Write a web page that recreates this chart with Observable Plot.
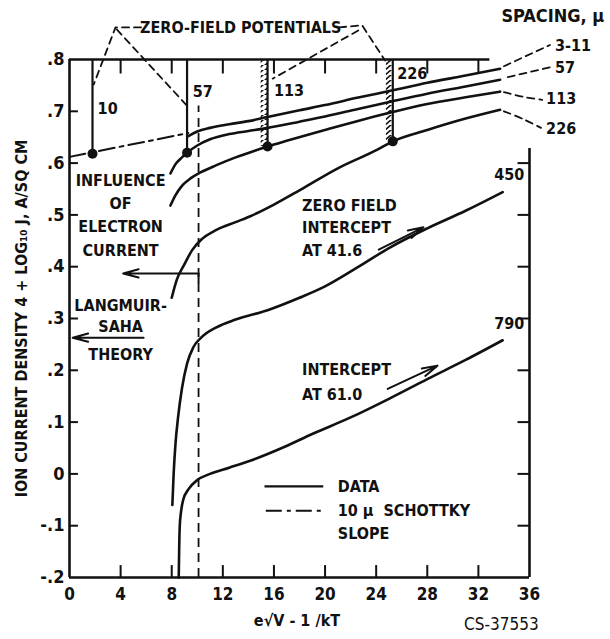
<!DOCTYPE html>
<html><head><meta charset="utf-8">
<script src="https://cdn.jsdelivr.net/npm/d3@7"></script>
<script src="https://cdn.jsdelivr.net/npm/@observablehq/plot@0.6"></script>
<style>
body{margin:0;background:#fff;}
#chart svg{font-family:"Liberation Sans Narrow","DejaVu Sans Condensed","Arial Narrow",sans-serif;font-weight:bold;}
</style></head><body><div id="chart"></div>
<script>
// ---- data ----
const xTicks = [0,4,8,12,16,20,24,28,32,36];
const yTicks = [-0.2,-0.1,0,0.1,0.2,0.3,0.4,0.5,0.6,0.7,0.8];
const innerXTicks = [4,8,12,16,20,24,28,32];
const rightYTicks = [-0.1,0,0.1,0.2,0.3,0.4,0.5,0.6];

const c311 = [[9.3,0.652],[10,0.661],[11,0.668],[12.5,0.675],[14,0.681],[15.5,0.689],[18,0.702],[20,0.712],[22.5,0.726],[25.2,0.740],[28,0.755],[31,0.769],[33.7,0.782]];
const c57 = [[7.9,0.580],[8.3,0.598],[8.8,0.611],[9.2,0.620],[10,0.634],[11,0.646],[12.5,0.656],[14,0.662],[15.5,0.668],[18,0.680],[20,0.690],[22.5,0.704],[25.2,0.719],[28,0.734],[31,0.748],[33.7,0.761]];
const c113 = [[7.9,0.518],[8.3,0.538],[8.8,0.556],[9.5,0.571],[10.25,0.582],[11.5,0.596],[13,0.611],[14.5,0.624],[15.5,0.632],[17,0.643],[20,0.664],[22.5,0.681],[25.2,0.698],[28,0.714],[31,0.727],[33.7,0.738]];
const c226 = [[8.0,0.340],[8.4,0.375],[9.0,0.405],[9.6,0.432],[10.3,0.452],[11.5,0.471],[13,0.486],[14.2,0.498],[16,0.520],[18.1,0.549],[21,0.590],[24.1,0.626],[25.3,0.642],[28,0.664],[31,0.686],[33.7,0.703]];
const c450 = [[8.05,-0.06],[8.15,0.0],[8.3,0.06],[8.5,0.11],[8.8,0.165],[9.2,0.213],[9.7,0.245],[10.3,0.263],[11.5,0.283],[13,0.298],[15.5,0.316],[18,0.340],[20,0.362],[22.5,0.398],[25,0.436],[28,0.474],[31,0.508],[33.9,0.544]];
const c790 = [[8.55,-0.2],[8.58,-0.15],[8.63,-0.10],[8.72,-0.075],[8.9,-0.05],[9.3,-0.03],[10,-0.012],[11,0.0],[12.5,0.012],[14.2,0.026],[16.8,0.052],[19,0.077],[22,0.109],[25,0.145],[28,0.183],[31,0.220],[33.9,0.258]];
const schottky = [[0,0.612],[9.3,0.658]];

const zfLabels = ["10","57","113","226"];
const zfX = [1.8, 9.2, 15.5, 25.3];
const zfY = [0.618, 0.620, 0.632, 0.642];
const zfHatched = [false, false, true, true];

const spacingLabels = ["3-11","57","113","226"];
const endLabels = ["450","790"];
const dashedLimitX = 10.1;
const electronArrowY = 0.387;
const langmuirSahaY = 0.263;

const influenceText = ["INFLUENCE","OF","ELECTRON","CURRENT"];
const langmuirText = ["LANGMUIR-","SAHA","THEORY"];
const intercept1Text = ["ZERO FIELD","INTERCEPT","AT 41.6"];
const intercept2Text = ["INTERCEPT","AT 61.0"];
const legendText = ["DATA","10 μ  SCHOTTKY","SLOPE"];
const titleTop = "ZERO-FIELD POTENTIALS";
const spacingTitle = "SPACING, μ";
const xTitle = "e√V - 1 /kT";
const yTitle = "ION CURRENT DENSITY 4 + LOG\u2081\u2080 J, A/SQ CM";
const figureId = "CS-37553";

// ---- build ----
const P = d => d[0], Q = d => d[1];
const yFmt = d => d === 0 ? "0" : d.toFixed(1).replace("0.", ".");
const curveStyle = {x: P, y: Q, curve: "monotone-x", strokeWidth: 2.6, stroke: "#111"};
const zf = zfLabels.map((l, i) => ({l, i, x: zfX[i], y: zfY[i], h: zfHatched[i]}));
const T = {fontSize: 16, fontWeight: "bold"};
const dash = {strokeWidth: 1.8, strokeDasharray: "7,5"};
const arrowStyle = {strokeWidth: 2, headLength: 12, headAngle: 30};

const plot = Plot.plot({
  width: 610, height: 639,
  marginLeft: 69, marginRight: 81, marginTop: 59, marginBottom: 62,
  x: {domain: [0, 36]},
  y: {domain: [-0.2, 0.8]},
  style: {background: "#fff", color: "#111", fontSize: "17px", overflow: "visible"},
  marks: [
    // frame
    Plot.ruleX([0], {y1: -0.2, y2: 0.8, strokeWidth: 2.6}),
    Plot.ruleY([-0.2], {x1: 0, x2: 36, strokeWidth: 2.6}),
    Plot.ruleY([0.8], {x1: 0, x2: 32.9, strokeWidth: 2.6}),
    Plot.ruleX([36], {y1: -0.2, y2: 0.628, strokeWidth: 2.6}),
    // inward ticks
    Plot.ruleY(yTicks.filter(d => d > -0.2 && d < 0.8), {x1: 0, x2: 0.7, strokeWidth: 2}),
    Plot.ruleX(innerXTicks, {y1: -0.2, y2: -0.177, strokeWidth: 2}),
    Plot.ruleX(innerXTicks, {y1: 0.8, y2: 0.772, strokeWidth: 2}),
    Plot.ruleY(rightYTicks, {x1: 36, x2: 35.1, strokeWidth: 2}),
    Plot.axisX({ticks: xTicks, tickSize: 0, tickPadding: 10, tickFormat: d => String(d), label: null, fontSize: 17, fontWeight: "bold"}),
    Plot.axisY({ticks: yTicks, tickSize: 0, tickPadding: 5, tickFormat: yFmt, label: null, fontSize: 18, fontWeight: "bold"}),
    // zero-field potential lines
    Plot.rect(zf.filter(d => d.h), {x1: d => d.x - 0.5, x2: d => d.x, y1: d => d.y, y2: 0.8, fill: "url(#hatch)"}),
    Plot.ruleX(zf, {x: "x", y1: "y", y2: 0.8, strokeWidth: 2.2}),
    Plot.text(zf, {x: d => d.x + [0.4, 0.45, 0.5, 0.35][d.i], y: d => [0.705, 0.737, 0.740, 0.772][d.i], text: "l", textAnchor: "start", ...T}),
    // zero-field leaders and title
    Plot.text([titleTop], {x: 13.4, y: 0.862, text: d => d, fontSize: 16, fontWeight: "bold"}),
    Plot.line([[5.6,0.862],[3.6,0.862],[1.9,0.752]], {x: P, y: Q, ...dash}),
    Plot.line([[3.7,0.858],[9.15,0.712]], {x: P, y: Q, ...dash}),
    Plot.line([[21.1,0.862],[22.9,0.866],[24.7,0.798]], {x: P, y: Q, ...dash}),
    Plot.line([[22.6,0.856],[15.9,0.763]], {x: P, y: Q, ...dash}),
    // dashed limit line
    Plot.ruleX([dashedLimitX], {y1: -0.2, y2: 0.71, strokeWidth: 1.8, strokeDasharray: "9,6"}),
    // curves
    Plot.line(schottky, {x: P, y: Q, strokeWidth: 2, strokeDasharray: "16,5,4,5"}),
    Plot.line(c311, curveStyle),
    Plot.line(c57, curveStyle),
    Plot.line(c113, curveStyle),
    Plot.line(c226, curveStyle),
    Plot.line(c450, curveStyle),
    Plot.line(c790, curveStyle),
    Plot.dot(zf, {x: "x", y: "y", r: 5, fill: "#111"}),
    // right spacing labels and leaders
    Plot.text([spacingTitle], {x: 33.8, y: 0.883, text: d => d, textAnchor: "start", fontSize: 18, fontWeight: "bold"}),
    Plot.line([[34.0,0.787],[37.6,0.828]], {x: P, y: Q, ...dash}),
    Plot.line([[34.3,0.766],[37.8,0.786]], {x: P, y: Q, ...dash}),
    Plot.line([[34.0,0.737],[35.5,0.728],[37.0,0.722]], {x: P, y: Q, curve: "catmull-rom", ...dash}),
    Plot.line([[34.0,0.700],[35.6,0.684],[36.9,0.668]], {x: P, y: Q, curve: "catmull-rom", ...dash}),
    Plot.text(spacingLabels, {x: [38.0, 38.0, 37.3, 37.3], y: [0.826, 0.784, 0.724, 0.666], text: d => d, textAnchor: "start", ...T}),
    Plot.text(endLabels, {x: [35.6, 35.6], y: [0.578, 0.290], text: d => d, textAnchor: "end", ...T}),
    // annotations
    Plot.text(influenceText, {x: 4.0, y: (d, i) => 0.566 - i * 0.045, text: d => d, ...T}),
    Plot.text(langmuirText, {x: 4.0, y: [0.325, 0.283, 0.229], text: d => d, ...T}),
    Plot.text(intercept1Text, {x: 18.2, y: [0.518, 0.474, 0.431], text: d => d, textAnchor: "start", ...T}),
    Plot.text(intercept2Text, {x: 18.2, y: [0.200, 0.153], text: d => d, textAnchor: "start", ...T}),
    // arrows
    Plot.arrow([0], {x1: dashedLimitX, x2: 4.2, y1: electronArrowY, y2: electronArrowY, ...arrowStyle}),
    Plot.ruleX([dashedLimitX], {y1: electronArrowY, y2: electronArrowY - 0.02, strokeWidth: 2}),
    Plot.arrow([0], {x1: 5.8, x2: 0.25, y1: langmuirSahaY, y2: langmuirSahaY, ...arrowStyle}),
    Plot.arrow([0], {x1: 24.2, y1: 0.433, x2: 27.7, y2: 0.476, ...arrowStyle}),
    Plot.arrow([0], {x1: 24.9, y1: 0.164, x2: 28.8, y2: 0.209, ...arrowStyle}),
    // legend
    Plot.ruleY([-0.024], {x1: 15.3, x2: 19.9, strokeWidth: 2.2}),
    Plot.ruleY([-0.071], {x1: 15.4, x2: 19.9, strokeWidth: 2, strokeDasharray: "16,5,4,5"}),
    Plot.text(legendText, {x: 21.0, y: [-0.026, -0.071, -0.115], text: d => d, textAnchor: "start", ...T}),
    // axis titles
    Plot.text([xTitle], {x: 17.8, y: -0.283, text: d => d, fontSize: 16, fontWeight: "bold"}),
    Plot.text([figureId], {x: 33.8, y: -0.291, text: d => d, fontSize: 17, fontWeight: "normal"}),
    Plot.text([yTitle], {x: -3.7, y: 0.3, text: d => d, rotate: -90, fontSize: 16, fontWeight: "bold"})
  ]
});
const svg = d3.select(plot);
const pat = svg.insert("defs", ":first-child").append("pattern")
  .attr("id", "hatch").attr("patternUnits", "userSpaceOnUse").attr("width", 8).attr("height", 5);
pat.append("path").attr("d", "M0,6 L8,-1").attr("stroke", "#111").attr("stroke-width", 1.6);
document.getElementById("chart").appendChild(plot);
</script></body></html>
